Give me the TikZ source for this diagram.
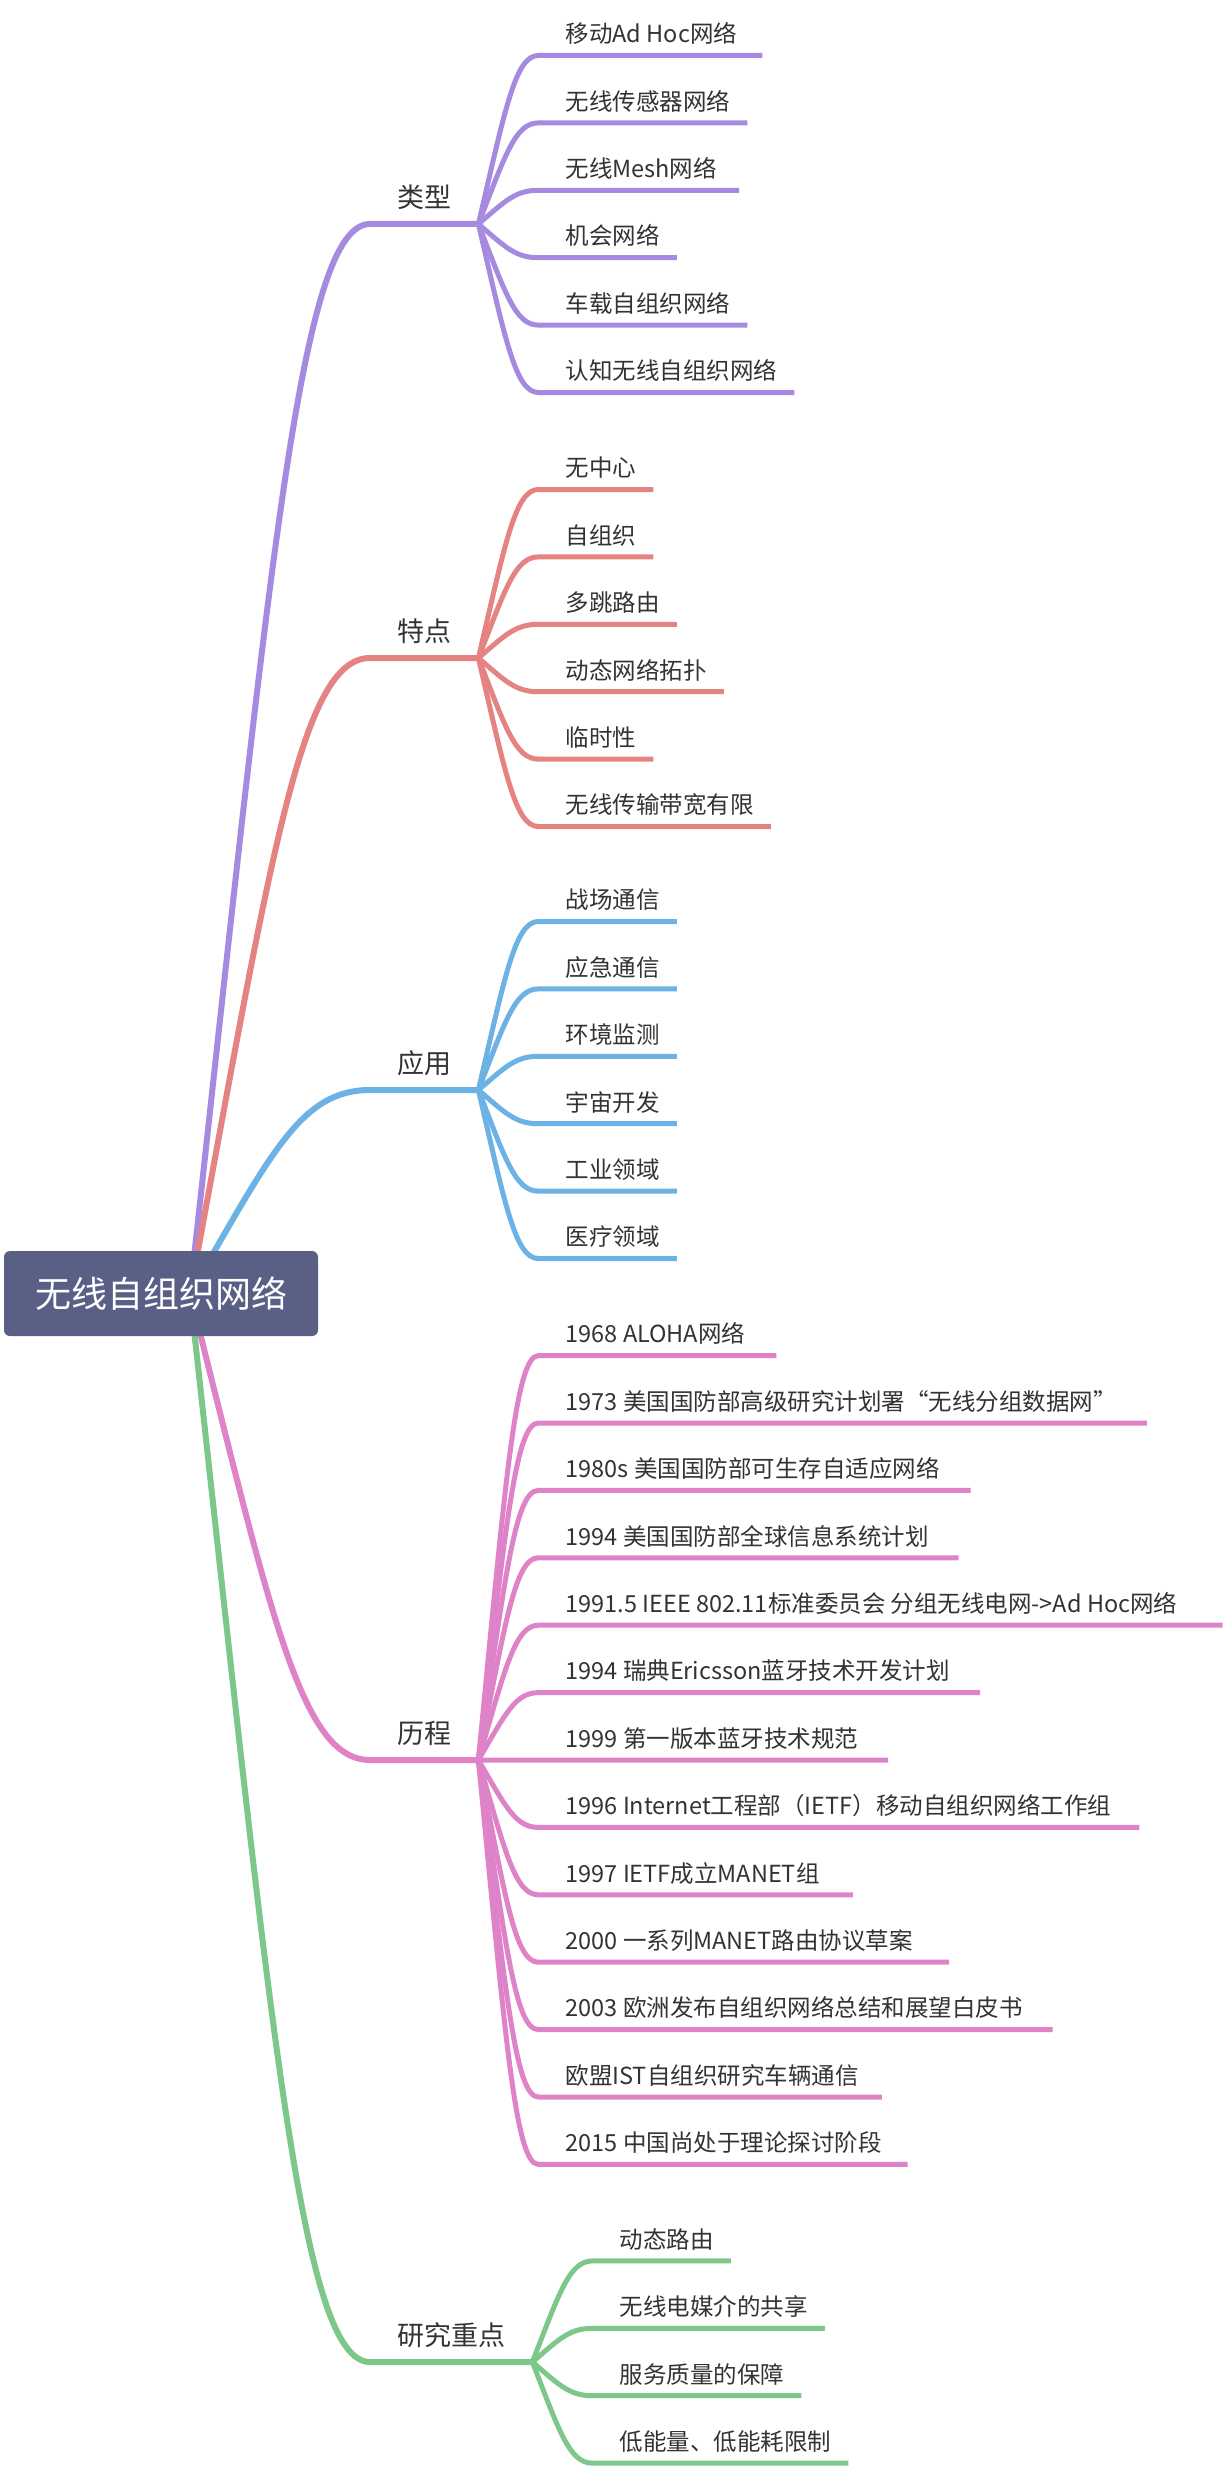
\documentclass[tikz,border=0pt]{standalone}
\usepackage{fontspec}
\usepackage{xcolor}
\usepackage{tikz}
\usetikzlibrary{calc, backgrounds}

\newfontfamily\cjk{Noto Sans CJK SC}

\definecolor{rootblue}{HTML}{5A5F85}
\definecolor{kindpurple}{HTML}{A58AE0}
\definecolor{traitred}{HTML}{E58382}
\definecolor{useblue}{HTML}{6CB2E4}
\definecolor{histpink}{HTML}{DF83C8}
\definecolor{focusgreen}{HTML}{7DC789}
\definecolor{labelgray}{HTML}{333333}

\begin{document}
\begin{tikzpicture}[
    x=1pt, y=-1pt,
    rootbox/.style={rectangle, rounded corners=6pt, fill=rootblue, text=white, minimum width=314pt, minimum height=85pt, font=\cjk\fontsize{36}{40}\selectfont},
    topic/.style={anchor=south west, inner xsep=27pt, inner ysep=0pt, text height=24pt, text depth=16pt, text=labelgray, font=\cjk\fontsize{27}{32}\selectfont},
    leaf/.style={anchor=south west, inner xsep=17pt, inner ysep=0pt, text height=20pt, text depth=12.5pt, text=labelgray, font=\cjk\fontsize{23.5}{28}\selectfont, execute at begin node=\hspace{10pt}},
    branch/.style={line width=6pt},
    twig/.style={line width=5pt},
    sprout/.style={to path={let \p1=(\tikztostart), \p2=(\tikztotarget) in
      .. controls ({\x1+0.45*(\x2-\x1)}, {\y1+0.686*(\y2-\y1)}) and ({\x2-0.385*(\x2-\x1)}, \y2) .. (\tikztotarget)}}
  ]
    \useasboundingbox (0,0) rectangle (1226,2472);

    \node[rootbox] (root) at (161,1293.5) {无线自组织网络};
    \coordinate (hub) at ([xshift=29pt]root.center);

    \node[topic] (kind) at (370,224) {类型};
    \node[topic] (trait) at (370,658) {特点};
    \node[topic] (use) at (370,1090) {应用};
    \node[topic] (hist) at (370,1760) {历程};
    \node[topic] (focus) at (370,2362) {研究重点};

    \node[leaf] (kind1) at ([xshift=60pt, yshift=168.5pt]kind.south east) {移动Ad Hoc网络\kern8pt};
    \node[leaf] (kind2) at ([yshift=-67.4pt]kind1.south west) {无线传感器网络};
    \node[leaf] (kind3) at ([yshift=-67.4pt]kind2.south west) {无线Mesh网络\kern5pt};
    \node[leaf] (kind4) at ([yshift=-67.4pt]kind3.south west) {机会网络};
    \node[leaf] (kind5) at ([yshift=-67.4pt]kind4.south west) {车载自组织网络};
    \node[leaf] (kind6) at ([yshift=-67.4pt]kind5.south west) {认知无线自组织网络};

    \node[leaf] (trait1) at ([xshift=60pt, yshift=168.5pt]trait.south east) {无中心};
    \node[leaf] (trait2) at ([yshift=-67.4pt]trait1.south west) {自组织};
    \node[leaf] (trait3) at ([yshift=-67.4pt]trait2.south west) {多跳路由};
    \node[leaf] (trait4) at ([yshift=-67.4pt]trait3.south west) {动态网络拓扑};
    \node[leaf] (trait5) at ([yshift=-67.4pt]trait4.south west) {临时性};
    \node[leaf] (trait6) at ([yshift=-67.4pt]trait5.south west) {无线传输带宽有限};

    \node[leaf] (use1) at ([xshift=60pt, yshift=168.5pt]use.south east) {战场通信};
    \node[leaf] (use2) at ([yshift=-67.4pt]use1.south west) {应急通信};
    \node[leaf] (use3) at ([yshift=-67.4pt]use2.south west) {环境监测};
    \node[leaf] (use4) at ([yshift=-67.4pt]use3.south west) {宇宙开发};
    \node[leaf] (use5) at ([yshift=-67.4pt]use4.south west) {工业领域};
    \node[leaf] (use6) at ([yshift=-67.4pt]use5.south west) {医疗领域};

    \node[leaf] (hist1) at ([xshift=60pt, yshift=404.4pt]hist.south east) {1968 ALOHA网络\kern14pt};
    \node[leaf] (hist2) at ([yshift=-67.4pt]hist1.south west) {1973 美国国防部高级研究计划署“无线分组数据网”\kern13pt};
    \node[leaf] (hist3) at ([yshift=-67.4pt]hist2.south west) {1980s 美国国防部可生存自适应网络\kern14pt};
    \node[leaf] (hist4) at ([yshift=-67.4pt]hist3.south west) {1994 美国国防部全球信息系统计划\kern13pt};
    \node[leaf] (hist5) at ([yshift=-67.4pt]hist4.south west) {1991.5 IEEE 802.11标准委员会 分组无线电网->Ad Hoc网络\kern28pt};
    \node[leaf] (hist6) at ([yshift=-67.4pt]hist5.south west) {1994 瑞典Ericsson蓝牙技术开发计划\kern13pt};
    \node[leaf] (hist7) at ([yshift=-67.4pt]hist6.south west) {1999 第一版本蓝牙技术规范\kern13pt};
    \node[leaf] (hist8) at ([yshift=-67.4pt]hist7.south west) {1996 Internet工程部（IETF）移动自组织网络工作组\kern11pt};
    \node[leaf] (hist9) at ([yshift=-67.4pt]hist8.south west) {1997 IETF成立MANET组\kern16pt};
    \node[leaf] (hist10) at ([yshift=-67.4pt]hist9.south west) {2000 一系列MANET路由协议草案\kern19pt};
    \node[leaf] (hist11) at ([yshift=-67.4pt]hist10.south west) {2003 欧洲发布自组织网络总结和展望白皮书\kern13pt};
    \node[leaf] (hist12) at ([yshift=-67.4pt]hist11.south west) {欧盟IST自组织研究车辆通信\kern6pt};
    \node[leaf] (hist13) at ([yshift=-67.4pt]hist12.south west) {2015 中国尚处于理论探讨阶段\kern9pt};

    \node[leaf] (focus1) at ([xshift=60pt, yshift=101.1pt]focus.south east) {动态路由};
    \node[leaf] (focus2) at ([yshift=-67.4pt]focus1.south west) {无线电媒介的共享};
    \node[leaf] (focus3) at ([yshift=-67.4pt]focus2.south west) {服务质量的保障};
    \node[leaf] (focus4) at ([yshift=-67.4pt]focus3.south west) {低能量、低能耗限制};

    \begin{scope}[on background layer]
    \fill[white] (0,0) rectangle (1226,2472);

    \draw[branch, kindpurple] (hub) to[sprout] (kind.south west) -- (kind.south east);
    \draw[branch, traitred] (hub) to[sprout] (trait.south west) -- (trait.south east);
    \draw[branch, useblue] (hub) to[sprout] (use.south west) -- (use.south east);
    \draw[branch, histpink] (hub) to[sprout] (hist.south west) -- (hist.south east);
    \draw[branch, focusgreen] (hub) to[sprout] (focus.south west) -- (focus.south east);

    \draw[twig, kindpurple] (kind.south east) to[sprout] (kind1.south west) -- (kind1.south east);
    \draw[twig, kindpurple] (kind.south east) to[sprout] (kind2.south west) -- (kind2.south east);
    \draw[twig, kindpurple] (kind.south east) to[sprout] (kind3.south west) -- (kind3.south east);
    \draw[twig, kindpurple] (kind.south east) to[sprout] (kind4.south west) -- (kind4.south east);
    \draw[twig, kindpurple] (kind.south east) to[sprout] (kind5.south west) -- (kind5.south east);
    \draw[twig, kindpurple] (kind.south east) to[sprout] (kind6.south west) -- (kind6.south east);

    \draw[twig, traitred] (trait.south east) to[sprout] (trait1.south west) -- (trait1.south east);
    \draw[twig, traitred] (trait.south east) to[sprout] (trait2.south west) -- (trait2.south east);
    \draw[twig, traitred] (trait.south east) to[sprout] (trait3.south west) -- (trait3.south east);
    \draw[twig, traitred] (trait.south east) to[sprout] (trait4.south west) -- (trait4.south east);
    \draw[twig, traitred] (trait.south east) to[sprout] (trait5.south west) -- (trait5.south east);
    \draw[twig, traitred] (trait.south east) to[sprout] (trait6.south west) -- (trait6.south east);

    \draw[twig, useblue] (use.south east) to[sprout] (use1.south west) -- (use1.south east);
    \draw[twig, useblue] (use.south east) to[sprout] (use2.south west) -- (use2.south east);
    \draw[twig, useblue] (use.south east) to[sprout] (use3.south west) -- (use3.south east);
    \draw[twig, useblue] (use.south east) to[sprout] (use4.south west) -- (use4.south east);
    \draw[twig, useblue] (use.south east) to[sprout] (use5.south west) -- (use5.south east);
    \draw[twig, useblue] (use.south east) to[sprout] (use6.south west) -- (use6.south east);

    \draw[twig, histpink] (hist.south east) to[sprout] (hist1.south west) -- (hist1.south east);
    \draw[twig, histpink] (hist.south east) to[sprout] (hist2.south west) -- (hist2.south east);
    \draw[twig, histpink] (hist.south east) to[sprout] (hist3.south west) -- (hist3.south east);
    \draw[twig, histpink] (hist.south east) to[sprout] (hist4.south west) -- (hist4.south east);
    \draw[twig, histpink] (hist.south east) to[sprout] (hist5.south west) -- (hist5.south east);
    \draw[twig, histpink] (hist.south east) to[sprout] (hist6.south west) -- (hist6.south east);
    \draw[twig, histpink] (hist.south east) to[sprout] (hist7.south west) -- (hist7.south east);
    \draw[twig, histpink] (hist.south east) to[sprout] (hist8.south west) -- (hist8.south east);
    \draw[twig, histpink] (hist.south east) to[sprout] (hist9.south west) -- (hist9.south east);
    \draw[twig, histpink] (hist.south east) to[sprout] (hist10.south west) -- (hist10.south east);
    \draw[twig, histpink] (hist.south east) to[sprout] (hist11.south west) -- (hist11.south east);
    \draw[twig, histpink] (hist.south east) to[sprout] (hist12.south west) -- (hist12.south east);
    \draw[twig, histpink] (hist.south east) to[sprout] (hist13.south west) -- (hist13.south east);

    \draw[twig, focusgreen] (focus.south east) to[sprout] (focus1.south west) -- (focus1.south east);
    \draw[twig, focusgreen] (focus.south east) to[sprout] (focus2.south west) -- (focus2.south east);
    \draw[twig, focusgreen] (focus.south east) to[sprout] (focus3.south west) -- (focus3.south east);
    \draw[twig, focusgreen] (focus.south east) to[sprout] (focus4.south west) -- (focus4.south east);
    \end{scope}
\end{tikzpicture}
\end{document}
